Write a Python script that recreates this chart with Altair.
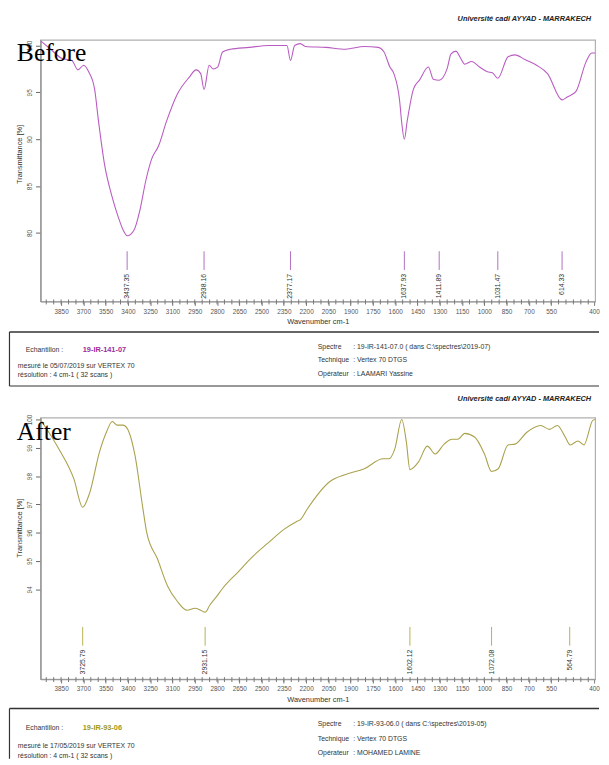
import altair as alt
import pandas as pd

SANS = "Liberation Sans"
SERIF = "Liberation Serif"

# ---------------- data ----------------
before_wn = [4000, 3933, 3859, 3796, 3757, 3719, 3687, 3649, 3623, 3585, 3534, 3495, 3463, 3437,
             3393, 3355, 3316, 3278, 3233, 3182, 3112, 3035, 2990, 2960, 2938, 2905, 2880, 2850,
             2818, 2767, 2645, 2518, 2400, 2377, 2350, 2313, 2281, 2147, 2019, 1898, 1808, 1770,
             1732, 1706, 1668, 1656, 1638, 1620, 1578, 1540, 1482, 1450, 1412, 1361, 1335, 1303,
             1278, 1246, 1201, 1150, 1099, 1067, 1031, 965, 920, 856, 780, 709, 614, 581, 524,
             460, 422, 400]
before_t = [100.5, 99.6, 98.6, 98.4, 97.4, 97.9, 97.2, 95.4, 91.9, 87.4, 83.8, 81.7, 80.3, 79.7,
            80.3, 82.4, 85.6, 87.9, 89.3, 91.9, 94.8, 96.6, 97.4, 97.0, 95.3, 97.9, 97.5, 97.7,
            99.3, 99.6, 99.8, 100.0, 100.0, 98.4, 100.0, 100.2, 99.9, 99.8, 99.6, 99.9, 99.8, 99.3,
            97.7, 97.0, 94.0, 91.9, 90.0, 91.9, 95.4, 96.3, 97.7, 96.4, 96.3, 97.5, 99.1, 99.4,
            98.8, 98.0, 98.3, 97.7, 97.2, 97.1, 96.5, 98.8, 99.0, 98.5, 97.9, 97.0, 94.2, 94.5, 95.1,
            98.2, 99.2, 99.2]
before_peaks = [3437.35, 2938.16, 2377.17, 1637.93, 1411.89, 1031.47, 614.33]
before_peak_labels = ["3437.35", "2938.16", "2377.17", "1637.93", "1411.89", "1031.47", "614.33"]
before_yticks = [80, 85, 90, 95, 100]

after_wn = [4000, 3885, 3783, 3726, 3681, 3617, 3572, 3534, 3502, 3463, 3425, 3387, 3335, 3310,
            3240, 3176, 3112, 3048, 2997, 2960, 2931, 2901, 2856, 2818, 2716, 2620, 2518, 2422,
            2339, 2313, 2268, 2121, 2019, 1898, 1776, 1738, 1700, 1655, 1625, 1602, 1546, 1489,
            1438, 1380, 1329, 1291, 1246, 1182, 1118, 1072, 1029, 965, 920, 843, 754, 696, 645,
            594, 562, 511, 473, 415, 400]
after_t = [100.0, 99.0, 97.9, 96.9, 97.4, 98.85, 99.55, 99.93, 99.8, 99.8, 99.55, 98.75, 96.85, 96.0,
           95.07, 94.13, 93.58, 93.26, 93.33, 93.26, 93.19, 93.44, 93.75, 94.03, 94.62, 95.17, 95.66, 96.11,
           96.39, 96.46, 96.84, 97.81, 98.06, 98.26, 98.61, 98.61, 98.96, 100.0, 99.2, 98.23, 98.5, 99.06,
           98.78, 99.13, 99.3, 99.3, 99.51, 99.38, 98.78, 98.16, 98.26, 99.1, 99.13, 99.55, 99.79, 99.65, 99.79,
           99.38, 99.1, 99.24, 99.1, 99.97, 100.0]
after_peaks = [3725.79, 2931.15, 1602.12, 1072.08, 564.79]
after_peak_labels = ["3725.79", "2931.15", "1602.12", "1072.08", "564.79"]
after_yticks = [94, 95, 96, 97, 98, 99, 100]

# printed wavenumber labels of the instrument's axis (the last one, "400", is printed at the frame end)
x_label_values = list(range(3850, 549, -150)) + [261]
x_minor_values = list(range(3950, 299, -50))

W, H = 564, 266
ONE = pd.DataFrame({"a": [0]})

X_SCALE = alt.Scale(domain=[400, 4000], reverse=True, nice=False, zero=False)
# scale of the printed axis labels (as laid out by the instrument software)
LABEL_SCALE = alt.Scale(domain=[253.9, 3989.1], reverse=True, nice=False, zero=False)
LABEL_AXIS = alt.Axis(
    orient="bottom", values=x_label_values, format="d",
    labelExpr="datum.value < 300 ? '400' : datum.label",
    labelFontSize=6.5, labelColor="#555555", labelFont=SANS,
    tickSize=4, tickColor="#777777", domainColor="#999999", domainWidth=1.2,
    labelPadding=3, labelFlush=False, labelOverlap=False, grid=False,
    title="Wavenumber cm-1", titleFontSize=7.5, titleFont=SANS,
    titleFontWeight="normal", titleColor="#333333", titlePadding=3)


def xenc():
    return alt.X("wn:Q", scale=X_SCALE, axis=None)


def txt(s, x, y, size=7, color="#333333", weight="normal", style="normal",
        align="left", font=SANS):
    return alt.Chart(pd.DataFrame({"s": [s]})).mark_text(
        align=align, baseline="middle", fontSize=size, color=color,
        fontWeight=weight, fontStyle=style, font=font
    ).encode(x=alt.value(x), y=alt.value(y), text="s:N")


def hrule(x1, x2, y, w=1.2):
    return alt.Chart(ONE).mark_rule(color="#333333", strokeWidth=w).encode(
        x=alt.value(x1), x2=alt.value(x2), y=alt.value(y))


def vrule(x, y1, y2, w=1.2):
    return alt.Chart(ONE).mark_rule(color="#333333", strokeWidth=w).encode(
        x=alt.value(x), y=alt.value(y1), y2=alt.value(y2))


def panel(wn, tr, peaks, peak_labels, ydom, yticks, line_color, rule_color,
          tag, sample, sample_color, spectre, date_line, operator,
          rule_y, box_top, box_bottom, tag_y, head_y, title_y, bottom_border, offs):
    df = pd.DataFrame({"wn": wn, "t": tr})
    y = alt.Y("t:Q", scale=alt.Scale(domain=ydom, nice=False, zero=False), axis=alt.Axis(
        values=yticks, labelAngle=270, labelAlign="center", labelBaseline="bottom",
        labelFontSize=6.5, labelColor="#555555", labelFont=SANS, labelPadding=3,
        tickSize=5, tickColor="#666666", domainColor="#999999", domainWidth=1.6,
        grid=False, title="Transmittance [%]", titleFontSize=7.5, titleFont=SANS,
        titleFontWeight="normal", titleColor="#333333", titlePadding=3, titleY=title_y))
    line = alt.Chart(df).mark_line(color=line_color, strokeWidth=1.1,
                                   interpolate="monotone", clip=True).encode(
        x=xenc(), y=y, order=alt.Order("wn:Q", sort="descending"))
    pk = pd.DataFrame({"wn": peaks, "lab": peak_labels})
    rules = alt.Chart(pk).mark_rule(color=rule_color, strokeWidth=1).encode(
        x=xenc(), y=alt.value(rule_y), y2=alt.value(rule_y + 19))
    ptxt = alt.Chart(pk).mark_text(angle=270, align="right", baseline="middle",
                                   fontSize=7, font=SANS, color="#333333").encode(
        x=xenc(), y=alt.value(rule_y + 23), text="lab:N")

    o_e, o_m, o_r, o_s, o_t, o_o = offs
    deco = [txt(tag, -24, tag_y, size=26, color="#000000", font=SERIF),
            txt("Université cadi AYYAD - MARRAKECH", 560, head_y,
                size=7.5, weight="bold", style="italic", align="right", color="#222222"),
            hrule(-31.5, 568, box_top, 1.5),
            vrule(-31.5, box_top, box_bottom, 1.2),
            txt("Echantillon :", -15, box_top + o_e),
            txt(sample, 43, box_top + o_e, size=7.5, weight="bold", color=sample_color),
            txt(date_line, -23, box_top + o_m),
            txt("résolution : 4 cm-1  ( 32 scans )", -23, box_top + o_r),
            txt("Spectre", 282, box_top + o_s),
            txt(": " + spectre, 318, box_top + o_s),
            txt("Technique", 282, box_top + o_t),
            txt(": Vertex 70 DTGS", 318, box_top + o_t),
            txt("Opérateur", 282, box_top + o_o),
            txt(": " + operator, 318, box_top + o_o)]
    if bottom_border:
        deco.append(hrule(-31.5, 568, box_bottom, 1.2))

    data_layer = alt.layer(line, rules, ptxt, *deco)
    minor = alt.Chart(pd.DataFrame({"lv": x_minor_values})).mark_rule(
        color="#777777", strokeWidth=1).encode(
        x=alt.X("lv:Q", scale=LABEL_SCALE, axis=LABEL_AXIS),
        y=alt.value(H - 2), y2=alt.value(H + 3))
    return alt.layer(data_layer, minor).resolve_scale(x="independent").properties(
        width=W, height=H)


p1 = panel(before_wn, before_t, before_peaks, before_peak_labels, [72.7, 100.6], before_yticks,
           "#b95cc2", "#b070c0", "Before", "19-IR-141-07", "#9b2d9b",
           "19-IR-141-07.0  ( dans C:\\spectres\\2019-07)",
           "mesuré le 05/07/2019 sur VERTEX 70", "LAAMARI Yassine",
           rule_y=215, box_top=297, box_bottom=352, tag_y=13, head_y=-21, title_y=116,
           bottom_border=True, offs=(18, 35, 44, 15, 29, 43))
p2 = panel(after_wn, after_t, after_peaks, after_peak_labels, [90.83, 100.07], after_yticks,
           "#aaa24c", "#b8b050", "After", "19-IR-93-06", "#9c9a1a",
           "19-IR-93-06.0  ( dans C:\\spectres\\2019-05)",
           "mesuré le 17/05/2019 sur VERTEX 70", "MOHAMED LAMINE",
           rule_y=213, box_top=296, box_bottom=347, tag_y=15, head_y=-19, title_y=112,
           bottom_border=False, offs=(20, 38, 48, 16, 31, 45))

chart = alt.vconcat(p1, p2, spacing=6).properties(
    padding={"top": 0, "left": 0, "right": 0, "bottom": 0}
).configure_view(stroke="#b0b0b0", strokeWidth=1.2)

chart.save("out.html", embed_options={"renderer": "svg", "actions": False})
